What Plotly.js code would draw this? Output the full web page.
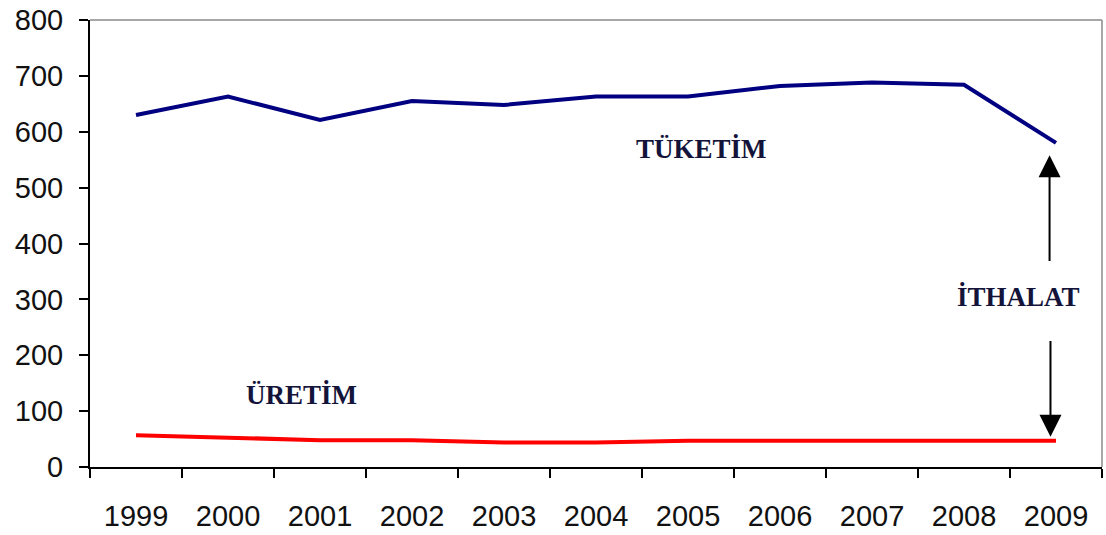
<!DOCTYPE html>
<html>
<head>
<meta charset="utf-8">
<script src="https://cdn.plot.ly/plotly-3.0.1.min.js"></script>
<style>html,body{margin:0;padding:0;background:#fff;}#chart{width:1106px;height:535px;}</style>
</head>
<body>
<div id="chart"></div>
<script>
const years = ["1999","2000","2001","2002","2003","2004","2005","2006","2007","2008","2009"];
const tuketim = [630, 663, 621, 655, 648, 663, 663, 682, 688, 684, 580];
const uretim = [57, 53, 48, 48, 44, 44, 47, 47, 47, 47, 47];
const yTicks = [0, 100, 200, 300, 400, 500, 600, 700, 800];

const traces = [
  {x: years, y: tuketim, type: "scatter", mode: "lines", name: "TÜKETİM",
   line: {color: "#000080", width: 4}, hoverinfo: "x+y"},
  {x: years, y: uretim, type: "scatter", mode: "lines", name: "ÜRETİM",
   line: {color: "#ff0000", width: 4}, hoverinfo: "x+y"}
];

const labFont = {family: "Liberation Serif, Times New Roman, serif", size: 27, color: "#14143a"};

const layout = {
  width: 1106, height: 535,
  margin: {l: 90, r: 4, t: 20, b: 68},
  paper_bgcolor: "#ffffff", plot_bgcolor: "#ffffff",
  showlegend: false,
  xaxis: {
    type: "category", range: [-0.5, 10.5], tickson: "boundaries",
    ticks: "outside", ticklen: 9, tickwidth: 2, tickcolor: "#000",
    showline: true, linecolor: "#000", linewidth: 2,
    showgrid: false, zeroline: false, ticklabelstandoff: 22,
    tickfont: {family: "Liberation Sans, Arial, sans-serif", size: 29, color: "#111"},
    fixedrange: true
  },
  yaxis: {
    range: [0, 800], tickvals: yTicks, ticktext: yTicks.map(String),
    ticks: "outside", ticklen: 9, tickwidth: 2, tickcolor: "#000",
    showline: true, linecolor: "#000", linewidth: 2,
    showgrid: false, zeroline: false, ticklabelstandoff: 10,
    tickfont: {family: "Liberation Sans, Arial, sans-serif", size: 29, color: "#111"},
    fixedrange: true
  },
  shapes: [
    {type: "line", xref: "paper", yref: "paper", x0: 0, x1: 1, y0: 1, y1: 1, line: {color: "#8a8a8a", width: 1.5}},
    {type: "line", xref: "paper", yref: "paper", x0: 1, x1: 1, y0: 0, y1: 1, line: {color: "#8a8a8a", width: 1.5}}
  ],
  annotations: [
    {x: 6.15, y: 570, xref: "x", yref: "y", text: "<b>TÜKETİM</b>", showarrow: false, font: labFont},
    {x: 1.8, y: 128, xref: "x", yref: "y", text: "<b>ÜRETİM</b>", showarrow: false, font: labFont},
    {x: 9.59, y: 304, xref: "x", yref: "y", text: "<b>İTHALAT</b>", showarrow: false, font: labFont},
    {x: 9.93, y: 558, xref: "x", yref: "y", ax: 9.93, ay: 366, axref: "x", ayref: "y",
     text: "", showarrow: true, arrowhead: 2, arrowsize: 2.2, arrowwidth: 2, arrowcolor: "#000"},
    {x: 9.94, y: 54, xref: "x", yref: "y", ax: 9.94, ay: 228, axref: "x", ayref: "y",
     text: "", showarrow: true, arrowhead: 2, arrowsize: 2.2, arrowwidth: 2, arrowcolor: "#000"}
  ]
};

Plotly.newPlot("chart", traces, layout, {displayModeBar: false, staticPlot: true});
</script>
</body>
</html>
